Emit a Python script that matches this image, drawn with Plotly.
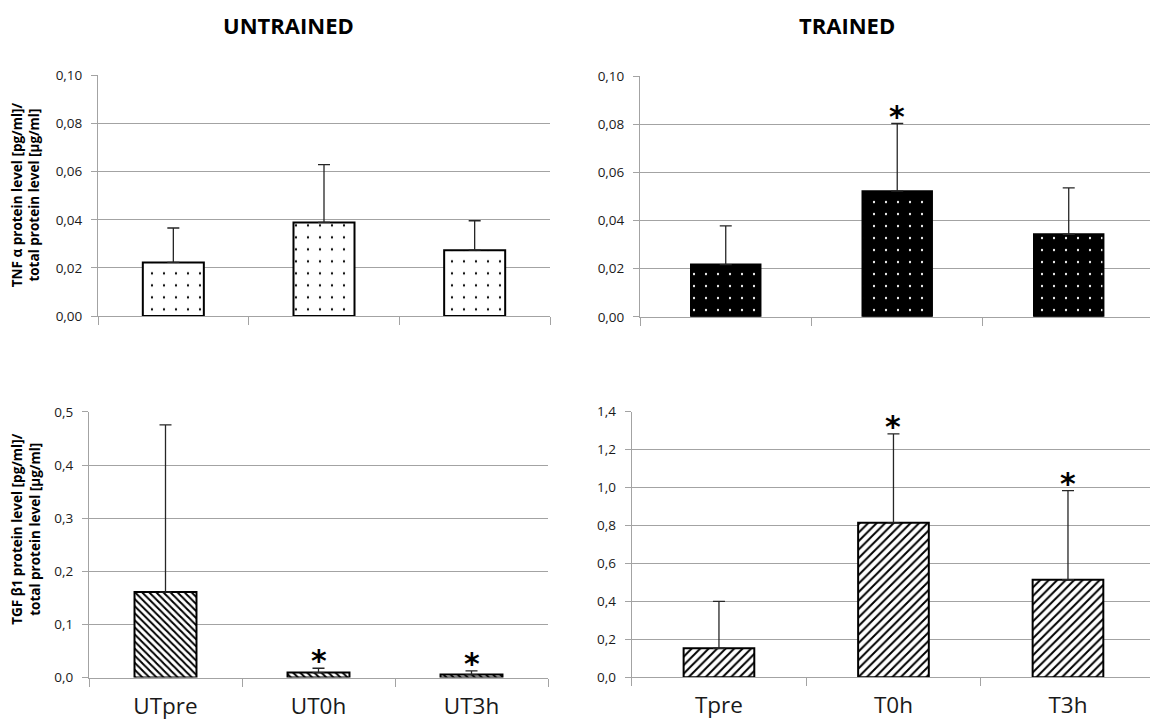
import plotly.graph_objects as go

# ---------------- data ----------------
untrained_categories = ["UTpre", "UT0h", "UT3h"]
trained_categories = ["Tpre", "T0h", "T3h"]

tnf_untrained = [0.0223, 0.0389, 0.0274]
tnf_untrained_err = [0.0143, 0.0240, 0.0122]
tnf_untrained_sig = [False, False, False]

tnf_trained = [0.0217, 0.0522, 0.0343]
tnf_trained_err = [0.0161, 0.0281, 0.0193]
tnf_trained_sig = [False, True, False]

tgf_untrained = [0.161, 0.0094, 0.0056]
tgf_untrained_err = [0.3146, 0.0081, 0.0070]
tgf_untrained_sig = [False, True, True]

tgf_trained = [0.153, 0.814, 0.514]
tgf_trained_err = [0.247, 0.469, 0.470]
tgf_trained_sig = [False, True, True]

group_titles = ["UNTRAINED", "TRAINED"]
tnf_ylabel = "TNF α protein level [pg/ml]/<br>total protein level [µg/ml]"
tgf_ylabel = "TGF β1 protein level [pg/ml]/<br>total protein level [µg/ml]"

# ---------------- styling ----------------
W, H = 1150, 727
GRID = "#A3A3A3"
TXT = "#1a1a1a"
FONT = "Open Sans"

# vertical calibration of the capture (figure px -> picture px: 8.5 + 0.9766*y)
Y_OFF, Y_SCALE = 8.5, 0.9766


def px_x(p):
    return p / W


def px_y(p):
    """picture pixel (from top) -> paper fraction"""
    fig_px = (p - Y_OFF) / Y_SCALE
    return 1 - fig_px / H


fig = go.Figure()

panels = [
    dict(idx=1, cats=untrained_categories, vals=tnf_untrained, errs=tnf_untrained_err, sig=tnf_untrained_sig,
         marker=dict(color="white", line=dict(color="black", width=2),
                     pattern=dict(shape=".", fgcolor="black", bgcolor="white", size=12, solidity=0.028,
                                  fillmode="replace")),
         xd=(98, 550), yd=(75, 316), xr=[-0.5, 2.5], yr=[0, 0.10], dtick=0.02, fmt=".2f", labels=False),
    dict(idx=2, cats=trained_categories, vals=tnf_trained, errs=tnf_trained_err, sig=tnf_trained_sig,
         marker=dict(color="black", line=dict(color="black", width=2),
                     pattern=dict(shape=".", fgcolor="white", bgcolor="black", size=12, solidity=0.028,
                                  fillmode="replace")),
         xd=(640, 1150), yd=(75.7, 316.7), xr=[-0.5, 2.474], yr=[0, 0.10], dtick=0.02, fmt=".2f", labels=False),
    dict(idx=3, cats=untrained_categories, vals=tgf_untrained, errs=tgf_untrained_err, sig=tgf_untrained_sig,
         marker=dict(color="white", line=dict(color="black", width=2),
                     pattern=dict(shape="\\", fgcolor="black", bgcolor="white", size=5, solidity=0.4,
                                  fillmode="replace")),
         xd=(89, 548), yd=(412, 678), xr=[-0.5, 2.5], yr=[0, 0.5], dtick=0.1, fmt=".1f", labels=True),
    dict(idx=4, cats=trained_categories, vals=tgf_trained, errs=tgf_trained_err, sig=tgf_trained_sig,
         marker=dict(color="white", line=dict(color="black", width=2),
                     pattern=dict(shape="/", fgcolor="black", bgcolor="white", size=6, solidity=0.33,
                                  fillmode="replace")),
         xd=(631.7, 1150), yd=(411.7, 677.7), xr=[-0.5, 2.470], yr=[0, 1.4], dtick=0.2, fmt=".1f", labels=True),
]

layout_axes = {}
for p in panels:
    i = p["idx"]
    xa = "x" if i == 1 else f"x{i}"
    ya = "y" if i == 1 else f"y{i}"
    xkey = "xaxis" if i == 1 else f"xaxis{i}"
    ykey = "yaxis" if i == 1 else f"yaxis{i}"

    fig.add_trace(go.Bar(
        x=p["cats"], y=p["vals"], width=0.405, xaxis=xa, yaxis=ya,
        marker=p["marker"], showlegend=False, hoverinfo="skip",
        error_y=dict(type="data", array=p["errs"], arrayminus=[0] * len(p["errs"]), symmetric=False,
                     color="#262626", thickness=1.3, width=6),
    ))

    for c, v, e, s in zip(p["cats"], p["vals"], p["errs"], p["sig"]):
        if s:
            fig.add_annotation(x=c, y=v + e, xref=xa, yref=ya, text="*", showarrow=False,
                               yanchor="bottom", yshift=-12,
                               font=dict(family="DejaVu Sans", size=30, color="black", weight="bold"))

    layout_axes[xkey] = dict(
        domain=[px_x(p["xd"][0]), px_x(p["xd"][1])], anchor=ya, type="category",
        categoryorder="array", categoryarray=p["cats"], range=p["xr"],
        tickson="boundaries", ticks="outside", ticklen=8, tickcolor=GRID, tickwidth=1,
        showline=True, linecolor=GRID, linewidth=1, showgrid=False, zeroline=False,
        showticklabels=p["labels"], tickfont=dict(family=FONT, size=22.5, color=TXT),
        ticklabelstandoff=8, fixedrange=True,
    )
    layout_axes[ykey] = dict(
        domain=[px_y(p["yd"][1]), px_y(p["yd"][0])], anchor=xa, range=p["yr"], dtick=p["dtick"],
        tick0=0, tickformat=p["fmt"], showgrid=True, gridcolor=GRID, gridwidth=1,
        showline=True, linecolor=GRID, linewidth=1, ticks="outside", ticklen=6, tickcolor=GRID,
        zeroline=False, tickfont=dict(family=FONT, size=13.5, color=TXT),
        ticklabelstandoff=6, fixedrange=True,
    )

# group titles
fig.add_annotation(x=px_x(288), y=px_y(24.5), xref="paper", yref="paper", text=group_titles[0],
                   showarrow=False, xanchor="center", yanchor="middle",
                   font=dict(family=FONT, size=22, color="black", weight="bold"))
fig.add_annotation(x=px_x(847), y=px_y(24.5), xref="paper", yref="paper", text=group_titles[1],
                   showarrow=False, xanchor="center", yanchor="middle",
                   font=dict(family=FONT, size=22, color="black", weight="bold"))

# y-axis titles
fig.add_annotation(x=px_x(26), y=px_y(195), xref="paper", yref="paper", text=tnf_ylabel,
                   showarrow=False, textangle=-90, xanchor="center", yanchor="middle",
                   font=dict(family=FONT, size=13.5, color="black", weight="bold"))
fig.add_annotation(x=px_x(26), y=px_y(530), xref="paper", yref="paper", text=tgf_ylabel,
                   showarrow=False, textangle=-90, xanchor="center", yanchor="middle",
                   font=dict(family=FONT, size=13.5, color="black", weight="bold"))

fig.update_layout(
    width=W, height=H, autosize=False,
    margin=dict(l=0, r=0, t=0, b=0),
    paper_bgcolor="white", plot_bgcolor="white",
    separators=",.", bargap=0.5,
    **layout_axes,
)

fig.write_html(
    "out.html",
    config={"displayModeBar": False},
    post_script="document.body.style.margin='0';document.body.style.overflow='hidden';",
)
